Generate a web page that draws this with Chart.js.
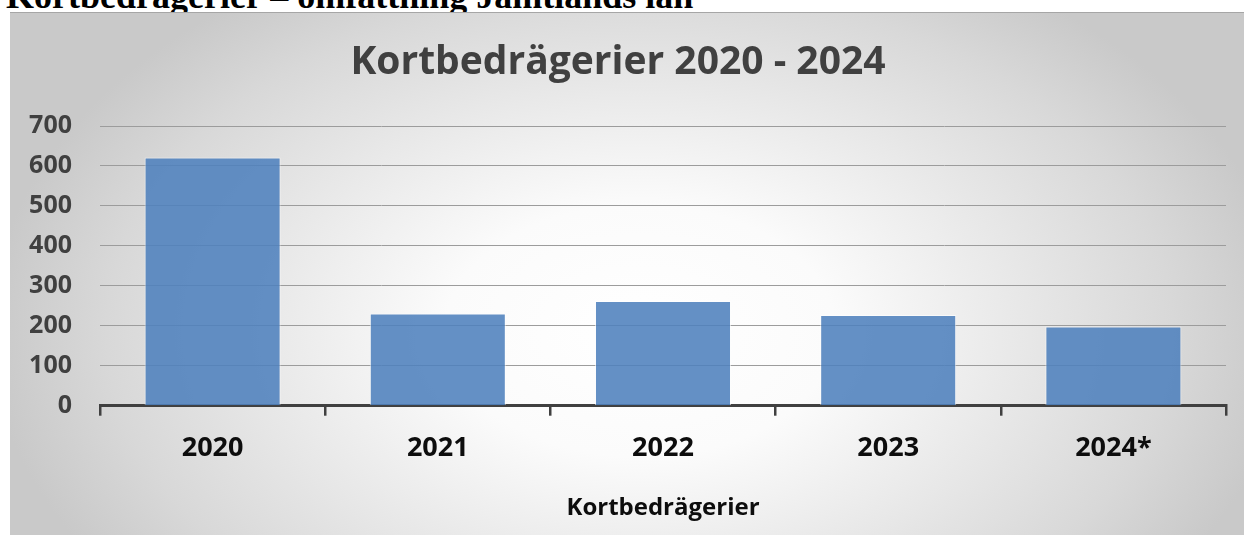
<!DOCTYPE html>
<html>
<head>
<meta charset="utf-8">
<script src="https://cdn.jsdelivr.net/npm/chart.js@4.4.1/dist/chart.umd.min.js"></script>
<style>
  html, body { margin: 0; padding: 0; background: #fff; overflow: hidden; }
  body { width: 1244px; height: 535px; position: relative; }
  #heading {
    position: absolute; left: 6px; top: -22px;
    font: bold 36px/36px "Liberation Serif", "Times New Roman", serif;
    color: #000; white-space: nowrap; z-index: 0;
  }
  #box {
    position: absolute; left: 10px; top: 12px; width: 1234px; height: 523px;
    border-top: 1px solid #a6a6a6; box-sizing: border-box; z-index: 1;
    background: radial-gradient(ellipse 650px 420px at 630px 318px,
      #ffffff 0%, #fbfbfb 30%, #e7e7e7 60%, #d8d8d8 82%, #c9c9c9 100%);
  }
  #box canvas { position: absolute; left: 0; top: -1px; }
</style>
</head>
<body>
<div id="heading">Kortbedrägerier – omfattning Jämtlands län</div>
<div id="box"><canvas id="chart_kortbedragerier" width="1234" height="523"></canvas></div>
<script>
const years = ['2020', '2021', '2022', '2023', '2024*'];
const cases = [621, 231, 262, 227, 198];
const yTicks = [0, 100, 200, 300, 400, 500, 600, 700];

const font = "'Open Sans', 'DejaVu Sans', sans-serif";

let data = {
  labels: years,
  datasets: [
    {
      label: 'Kortbedrägerier',
      data: cases,
      backgroundColor: 'rgba(79, 129, 189, 0.88)',
      borderColor: 'rgba(255, 255, 255, 0.6)',
      borderWidth: 1,
      barPercentage: 0.604,
      categoryPercentage: 1
    }
  ]
};

let options = {
  responsive: false,
  devicePixelRatio: 1,
  animation: false,
  layout: { padding: { left: 0, right: 18, top: 0, bottom: 0 } },
  plugins: {
    legend: { display: false },
    tooltip: { enabled: false },
    title: {
      display: true,
      text: 'Kortbedrägerier 2020 - 2024',
      color: '#404040',
      font: { family: font, size: 39, weight: 'bold' },
      padding: { top: 27, bottom: 40.2 }
    }
  },
  scales: {
    x: {
      z: 1,
      afterFit: s => { s.height = 129.3; },
      border: { display: true, color: '#404040', width: 3 },
      grid: {
        display: true,
        drawOnChartArea: false,
        drawTicks: true,
        tickLength: 10,
        color: '#404040',
        lineWidth: 2.5
      },
      ticks: {
        color: '#0d0d0d',
        padding: 16,
        font: { family: font, size: 27, weight: 'bold' }
      },
      title: {
        display: true,
        text: 'Kortbedrägerier',
        color: '#0d0d0d',
        font: { family: font, size: 24, weight: 'bold' },
        padding: { top: 0, bottom: 12.6 }
      }
    },
    y: {
      min: 0,
      max: 700,
      afterFit: s => { s.width = 90; },
      afterBuildTicks: s => { s.ticks = yTicks.map(v => ({ value: v })); },
      border: { display: false },
      grid: {
        drawTicks: false,
        color: ctx => ctx.tick && ctx.tick.value === 0 ? 'transparent' : '#9c9c9c',
        lineWidth: 1
      },
      ticks: {
        color: '#404040',
        padding: 28,
        font: { family: font, size: 25, weight: 'bold' }
      }
    }
  }
};

new Chart('chart_kortbedragerier', { type: 'bar', data, options });
</script>
</body>
</html>
